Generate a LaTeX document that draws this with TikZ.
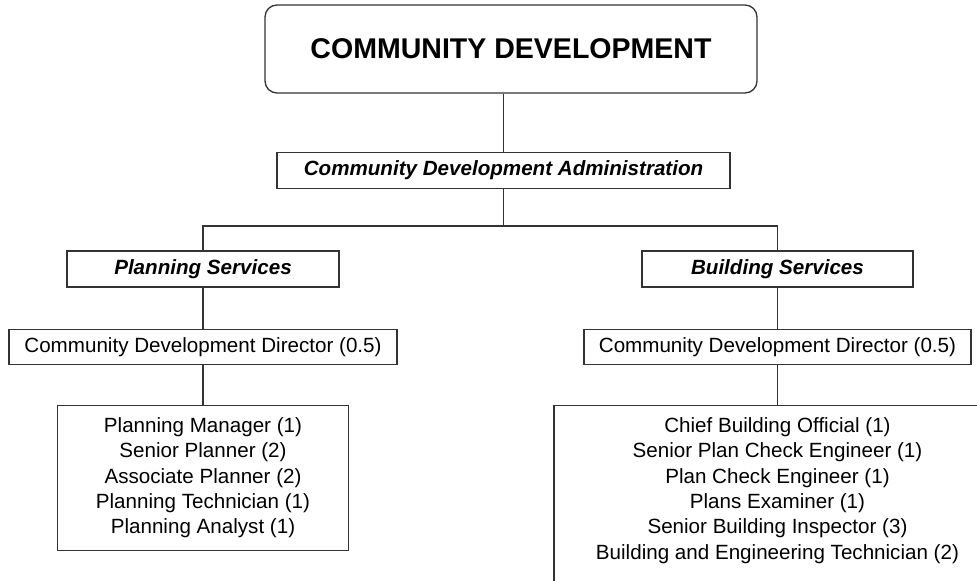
\documentclass[tikz,border=0pt]{standalone}
\usepackage{fontspec}
\setmainfont{Liberation Sans}
\usetikzlibrary{positioning}
\usepackage{xcolor}
\definecolor{lineGray}{HTML}{333333}
\tikzset{
    head/.style={
        rectangle,
        rounded corners=9pt,
        draw=lineGray,
        line width=1pt,
        align=center,
        minimum width=369pt,
        minimum height=66pt,
        font=\fontsize{21.4}{25}\selectfont\bfseries
    },
    division/.style={
        rectangle,
        draw=lineGray,
        line width=1pt,
        align=center,
        minimum height=27pt,
        font=\fontsize{15.45}{19}\selectfont\bfseries\itshape
    },
    post/.style={
        rectangle,
        draw=lineGray,
        line width=1pt,
        align=center,
        minimum height=26.25pt,
        font=\fontsize{15.45}{19}\selectfont
    },
    staff/.style={
        rectangle,
        draw=lineGray,
        line width=1pt,
        align=center,
        inner ysep=9pt,
        font=\fontsize{15.45}{19}\selectfont
    },
    link/.style={line width=1pt,draw=lineGray}
}

\begin{document}
\begin{tikzpicture}[node distance=30pt]
    \path[use as bounding box, clip] (0,0) rectangle (732.75pt,-435.75pt);

    \node[head] (top) at (383.25pt,-36.75pt) {COMMUNITY DEVELOPMENT};
    \node[division, minimum width=339.75pt, below=43.5pt of top, xshift=-5.6pt] (admin)
        {Community Development Administration};
    \coordinate[below=27.75pt of admin] (split);

    \node[division, minimum width=204pt] (planning) at (152.25pt,-201.75pt)
        {Planning Services};
    \node[division, minimum width=203.25pt] (building) at (583.1pt,-201.75pt)
        {Building Services};

    \node[post, minimum width=291pt, below=30.75pt of planning] (dirL)
        {Community Development Director (0.5)};
    \node[post, minimum width=290.25pt, below=30.75pt of building] (dirR)
        {Community Development Director (0.5)};

    \node[staff, minimum width=218.25pt, below=of dirL] (planStaff)
        {Planning Manager (1)\\ Senior Planner (2)\\ Associate Planner (2)\\
         Planning Technician (1)\\ Planning Analyst (1)};
    \node[staff, minimum width=335.2pt, text depth=20pt, below=of dirR] (buildStaff)
        {Chief Building Official (1)\\ Senior Plan Check Engineer (1)\\
         Plan Check Engineer (1)\\ Plans Examiner (1)\\
         Senior Building Inspector (3)\\ Building and Engineering Technician (2)};

    \draw[link] (top.south -| admin.north) -- (admin);
    \draw[link] (admin) -- (split);
    \draw[link] (planning) |- (split) -| (building);
    \draw[link] (planning) -- (dirL);
    \draw[link] (dirL) -- (planStaff);
    \draw[link] (building) -- (dirR);
    \draw[link] (dirR) -- (buildStaff);
\end{tikzpicture}
\end{document}
